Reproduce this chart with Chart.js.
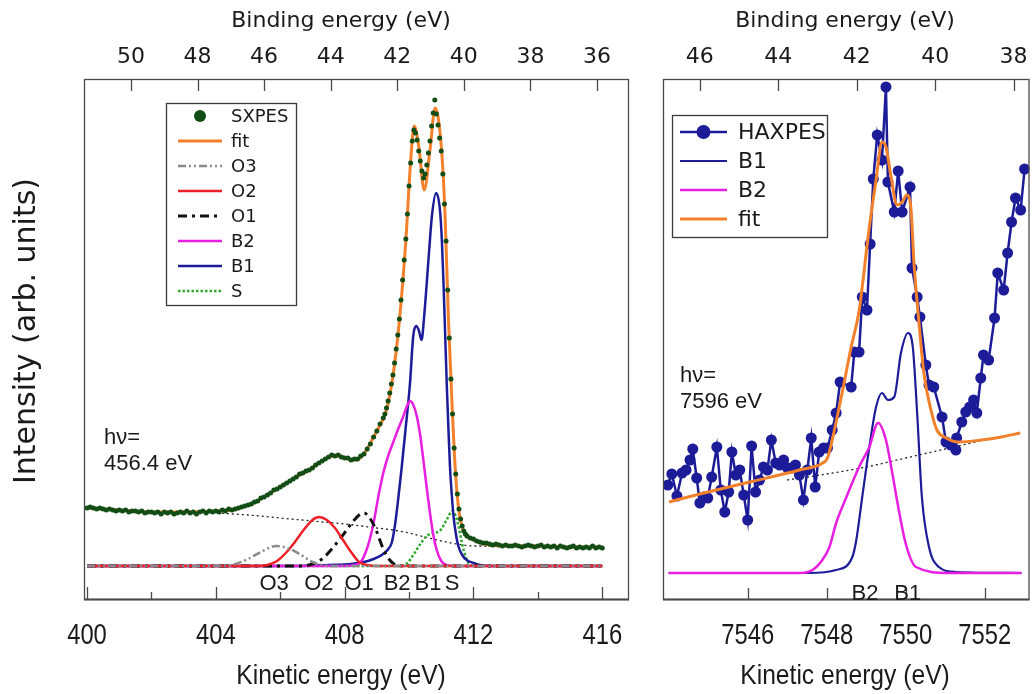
<!DOCTYPE html>
<html>
<head>
<meta charset="utf-8">
<script src="https://cdn.jsdelivr.net/npm/chart.js@4.4.0/dist/chart.umd.min.js"></script>
<style>
  html, body { margin: 0; padding: 0; background: #fff; }
  #wrap { position: relative; width: 1035px; height: 694px; }
  #sx { position: absolute; left: 0; top: 0; }
  #hx { position: absolute; left: 640px; top: 0; }
</style>
</head>
<body>
<div id="wrap">
  <canvas id="sx" width="640" height="694"></canvas>
  <canvas id="hx" width="395" height="694"></canvas>
</div>
<script>
// --- SXPES panel (hv = 456.4 eV), kinetic energy in eV, intensity in arb. units ---
// measured points, three runs of the energy grid (start, step)
const sxpesStart = [400.0, 409.25, 411.9];
const sxpesStep = [0.1, 0.05, 0.1];
const sxpesRuns = [
  [58, 59, 58, 57, 58, 57, 56, 57, 56, 55,
   56, 55, 56, 54, 55, 55, 54, 55, 53, 54,
   54, 53, 54, 52, 54, 53, 54, 52, 53, 54,
   53, 55, 53, 54, 52, 54, 55, 53, 55, 54,
   55, 54, 56, 55, 57, 56, 57, 58, 59, 60,
   61, 62, 64, 65, 68, 69, 71, 73, 76, 77,
   79, 81, 83, 85, 87, 89, 92, 93, 95, 96,
   98, 101, 103, 105, 107, 109, 111, 110, 111, 109,
   108, 108, 106, 107, 107, 110, 112, 117, 122, 129,
   135, 142, 148],
  [152, 158, 165, 173, 182, 191, 203, 217, 231, 247, 266, 286, 306, 327, 352,
   380, 403, 425, 436, 433, 426, 415, 405, 395, 388, 392, 401, 413, 425, 440,
   453, 466, 452, 441, 428,
   415, 392, 362, 325, 276, 228, 187, 152, 118, 92, 72, 57, 47, 40, 35, 32, 30],
  [28, 27, 25, 24, 23, 23, 22, 21, 22, 21,
   20, 21, 20, 20, 21, 20, 19, 20, 21, 20,
   19, 20, 21, 19, 20, 19, 20, 18, 20, 19,
   18, 19, 20, 18, 19, 18, 19, 18, 20, 18,
   19, 18]
];

const sxFitKE = [400.0, 401.0, 402.0, 403.0, 404.0, 404.5, 404.85, 405.2, 405.5, 405.85,
  406.2, 406.55, 406.9, 407.2, 407.45, 407.65, 407.85, 408.1, 408.35, 408.6,
  408.85, 409.05, 409.3, 409.5, 409.7, 409.9, 410.05, 410.16, 410.3, 410.47,
  410.65, 410.81, 411.0, 411.12, 411.22, 411.33, 411.43, 411.53, 411.68, 412.0,
  412.5, 413.0, 414.0, 415.0, 416.0];
const sxFitI = [58, 56, 54, 54, 55, 56, 59, 63, 69, 76,
  83, 90, 96, 103, 108, 110, 110, 107, 106, 112,
  126, 138, 156, 190, 245, 325, 405, 440, 420, 376,
  416, 458, 420, 350, 250, 166, 100, 60, 36, 26,
  21, 20, 20, 19, 19];

const sxO3KE = [400, 404.0, 404.5, 405.0, 405.4, 405.87, 406.3, 406.6, 407.0, 407.3, 407.8, 416];
const sxO3I = [0, 0, 1, 7, 14, 20, 17, 12, 4, 1, 0, 0];

const sxO2KE = [400, 405.3, 405.6, 405.9, 406.2, 406.5, 406.75, 407.0, 407.2, 407.45, 407.7, 407.95, 408.2, 408.45, 408.7, 409.0, 416];
const sxO2I = [0, 0, 1, 5, 14, 26, 37, 46, 49, 46, 38, 26, 14, 4, 1, 0, 0];

const sxO1KE = [400, 406.6, 407.0, 407.3, 407.6, 407.9, 408.2, 408.45, 408.6, 408.8, 409.0, 409.2, 409.4, 409.6, 409.9, 416];
const sxO1I = [0, 0, 2, 7, 17, 29, 42, 51, 53, 47, 34, 17, 6, 1, 0, 0];

const sxB2KE = [400, 408.0, 408.3, 408.5, 408.7, 408.88, 409.05, 409.2, 409.35, 409.5, 409.65, 409.8, 409.95,
  410.03, 410.12, 410.24, 410.35, 410.43, 410.55, 410.65, 410.76, 410.86, 411.0, 411.15, 411.4, 416];
const sxB2I = [0, 0, 1, 4, 18, 40, 70, 93, 110, 123, 136, 148, 161,
  165, 162, 150, 130, 110, 78, 53, 30, 16, 5, 1, 0, 0];

const sxB1KE = [400, 406.5, 407.5, 408.2, 408.6, 408.9, 409.1, 409.3, 409.46, 409.56,
  409.66, 409.77, 409.88, 410.03, 410.13, 410.22, 410.3, 410.39, 410.47, 410.55,
  410.63, 410.71, 410.84, 410.96, 411.02, 411.07, 411.12, 411.17, 411.22, 411.27,
  411.33, 411.38, 411.45, 411.53, 411.65, 411.79, 412.0, 412.2, 412.6, 416];
const sxB1I = [0, 0, 1, 2, 4, 7, 10, 15, 23, 40,
  66, 98, 133, 183, 230, 240, 236, 226, 250, 283,
  318, 350, 373, 356, 325, 283, 233, 183, 140, 100,
  70, 50, 33, 20, 11, 6, 3, 1, 0, 0];

const sxSKE = [400, 409.8, 409.95, 410.15, 410.35, 410.55, 410.75, 410.95, 411.15, 411.35, 411.45, 411.55, 411.65, 411.75, 411.85, 412.0, 416];
const sxSI = [0, 0, 3, 12, 22, 30, 33, 35, 45, 55, 50, 38, 22, 10, 3, 0, 0];

const sxBgKE = [400, 401, 402, 403, 404, 405, 406, 407, 408, 409, 409.5, 410, 410.5, 411, 411.5, 412, 413, 414, 415, 416];
const sxBgI = [58, 56, 54, 54, 53, 51, 48, 45, 42, 38, 36, 33, 29, 25, 22, 20, 20, 20, 19, 19];

const sxKETicks = [400, 402, 404, 406, 408, 410, 412, 414, 416];
const sxKELabels = [400, 404, 408, 412, 416];
const sxBETicks = [50, 48, 46, 44, 42, 40, 38, 36];
const sxPeakNames = ['O3', 'O2', 'O1', 'B2', 'B1', 'S'];
const sxPeakKE = [405.81, 407.2, 408.45, 409.63, 410.59, 411.34];

// --- HAXPES panel (hv = 7596 eV) ---
const hxKE = [7543.98, 7544.08, 7544.21, 7544.34, 7544.44, 7544.54, 7544.61, 7544.71, 7544.79, 7544.89,
  7544.99, 7545.09, 7545.22, 7545.32, 7545.42, 7545.52, 7545.60, 7545.70, 7545.80, 7545.90,
  7546.00, 7546.10, 7546.20, 7546.30, 7546.40, 7546.50, 7546.60, 7546.71, 7546.81, 7546.91,
  7547.01, 7547.11, 7547.21, 7547.31, 7547.41, 7547.51, 7547.61, 7547.71, 7547.81, 7547.92,
  7548.02, 7548.14, 7548.24, 7548.34, 7548.62, 7548.70, 7548.82, 7548.90, 7549.02, 7549.10,
  7549.18, 7549.28, 7549.40, 7549.50, 7549.55, 7549.71, 7549.81, 7549.91, 7550.11, 7550.16,
  7550.29, 7550.36, 7550.51, 7550.59, 7550.71, 7550.92, 7551.02, 7551.14, 7551.27, 7551.29,
  7551.42, 7551.52, 7551.62, 7551.72, 7551.80, 7551.90, 7551.97, 7552.10, 7552.25, 7552.33,
  7552.48, 7552.58, 7552.68, 7552.78, 7552.91, 7553.01];
const hxI = [88, 99, 77, 100, 103, 113, 124, 95, 70, 76,
  75, 96, 126, 83, 61, 81, 121, 98, 103, 78,
  53, 127, 81, 93, 106, 103, 133, 110, 108, 113,
  105, 105, 108, 98, 73, 103, 135, 86, 121, 125,
  125, 143, 160, 191, 186, 221, 221, 276, 263, 329,
  394, 438, 413, 486, 391, 361, 402, 361, 386, 305,
  276, 256, 208, 188, 186, 156, 131, 128, 123, 135,
  151, 161, 166, 173, 160, 195, 218, 213, 255, 300,
  283, 320, 351, 375, 363, 404];

const hxFitKE = [7544.01, 7544.79, 7546.05, 7547.31, 7547.9, 7548.02, 7548.14, 7548.37, 7548.62, 7548.82,
  7549.07, 7549.25, 7549.4, 7549.5, 7549.63, 7549.78, 7549.91, 7550.03, 7550.13, 7550.21,
  7550.33, 7550.46, 7550.64, 7550.79, 7551.02, 7551.34, 7551.92, 7552.42, 7552.9];
const hxFitI = [71, 79, 91, 103, 110, 115, 133, 176, 226, 262,
  343, 393, 431, 426, 396, 368, 371, 378, 366, 310,
  253, 200, 163, 143, 135, 131, 133, 136, 140];

const hxB1KE = [7544.0, 7547.56, 7548.24, 7548.65, 7548.75, 7548.90, 7549.08, 7549.25, 7549.40, 7549.55,
  7549.71, 7549.88, 7550.06, 7550.18, 7550.29, 7550.41, 7550.59, 7550.84, 7551.27, 7552.93];
const hxB1I = [0, 0, 3, 16, 33, 76, 126, 166, 180, 173, 176, 220, 240, 226, 160, 76, 26, 6, 1, 0];

const hxB2KE = [7544.0, 7547.3, 7547.64, 7547.89, 7548.07, 7548.24, 7548.5, 7548.82, 7549.08, 7549.3,
  7549.5, 7549.66, 7549.83, 7550.01, 7550.26, 7551.09, 7552.93];
const hxB2I = [0, 0, 3, 13, 26, 50, 76, 106, 126, 150, 133, 100, 62, 28, 6, 0, 0];

const hxBgKE = [7547.0, 7548.0, 7549.0, 7550.0, 7551.0, 7552.0, 7552.93];
const hxBgI = [93, 99, 106, 115, 124, 133, 140];

const hxKETicks = [7546, 7548, 7550, 7552];
const hxBETicks = [46, 44, 42, 40, 38];
const hxPeakNames = ['B2', 'B1'];
const hxPeakKE = [7548.97, 7550.05];

// colours
const C_DATA = '#114d14';
const C_FIT = '#f3802a';
const C_B1 = '#1c1c98';
const C_B2 = '#e81ee0';
const C_O2 = '#ee2026';
const C_O3 = '#8a8a8a';
const C_S = '#2faa2f';
const INK = '#1a1a1a';

Chart.defaults.animation = false;
Chart.defaults.font.family = '"DejaVu Sans", sans-serif';
Chart.defaults.color = INK;

const DEJAVU = '"DejaVu Sans", sans-serif';
const HELV = '"Liberation Sans", Arial, sans-serif';

function pts(xs, ys) {
  return xs.map((x, i) => ({ x: x, y: ys[i] }));
}

function runPts(starts, steps, runs) {
  const out = [];
  runs.forEach((run, r) => run.forEach((v, k) => {
    out.push({ x: +(starts[r] + k * steps[r]).toFixed(3), y: v });
  }));
  return out;
}

function curve(label, data, color, width, dash) {
  return {
    label: label, data: data, showLine: true,
    borderColor: color, backgroundColor: color,
    borderWidth: width, borderDash: dash || [],
    pointRadius: 0, cubicInterpolationMode: 'monotone'
  };
}

// tick marks drawn inside the frame, plus the frame itself
const innerTicks = {
  id: 'innerTicks',
  afterDatasetsDraw(chart, args, opts) {
    const ctx = chart.ctx, a = chart.chartArea;
    ctx.save();
    ctx.strokeStyle = '#4a4a4a';
    ctx.lineWidth = 1.3;
    (opts.marks || []).forEach(m => {
      const sc = chart.scales[m.id];
      sc.ticks.forEach(t => {
        const px = Math.round(sc.getPixelForValue(t.value)) + 0.5;
        const len = (m.labeled && !m.labeled.includes(t.value)) ? m.minor : m.major;
        ctx.beginPath();
        if (sc.options.position === 'top') {
          ctx.moveTo(px, a.top); ctx.lineTo(px, a.top + len);
        } else {
          ctx.moveTo(px, a.bottom); ctx.lineTo(px, a.bottom - len);
        }
        ctx.stroke();
      });
    });
    ctx.strokeRect(a.left + 0.5, a.top + 0.5, a.right - a.left - 1, a.bottom - a.top - 1);
    ctx.lineWidth = 2.2;
    ctx.beginPath();
    ctx.moveTo(a.left, a.bottom - 0.5); ctx.lineTo(a.right, a.bottom - 0.5);
    ctx.stroke();
    ctx.restore();
  }
};

// boxed legend placed inside the plot
const boxLegend = {
  id: 'boxLegend',
  afterDatasetsDraw(chart, args, o) {
    const ctx = chart.ctx;
    ctx.save();
    ctx.fillStyle = '#fff';
    ctx.fillRect(o.x, o.y, o.w, o.h);
    ctx.strokeStyle = '#3a3a3a';
    ctx.lineWidth = 1.3;
    ctx.strokeRect(o.x + 0.5, o.y + 0.5, o.w, o.h);
    ctx.font = o.font;
    ctx.textBaseline = 'middle';
    o.items.forEach((name, i) => {
      const ds = chart.data.datasets.find(d => d.label === name);
      const y = o.y + o.first + i * o.row;
      if (ds.showLine) {
        ctx.strokeStyle = ds.borderColor;
        ctx.lineWidth = ds.borderWidth;
        ctx.setLineDash(ds.borderDash || []);
        ctx.beginPath();
        ctx.moveTo(o.x + o.s0, y); ctx.lineTo(o.x + o.s1, y);
        ctx.stroke();
        ctx.setLineDash([]);
      }
      if (ds.pointRadius > 0) {
        ctx.fillStyle = ds.pointBackgroundColor;
        ctx.beginPath();
        ctx.arc(o.x + (o.s0 + o.s1) / 2, y, o.marker, 0, Math.PI * 2);
        ctx.fill();
      }
      ctx.fillStyle = INK;
      ctx.fillText(name, o.x + o.tx, y + 1);
    });
    ctx.restore();
  }
};

// free text: photon energy, peak names, kinetic tick labels and axis titles
const notes = {
  id: 'notes',
  afterDraw(chart, args, o) {
    const ctx = chart.ctx;
    const sc = chart.scales.x;
    ctx.save();
    ctx.fillStyle = INK;
    ctx.textBaseline = 'middle';
    ctx.textAlign = 'left';
    (o.text || []).forEach(t => {
      ctx.font = t.font;
      ctx.fillText(t.s, t.x, t.y);
    });
    ctx.textAlign = 'center';
    ctx.font = o.peakFont;
    o.peaks.forEach((name, i) => {
      ctx.fillText(name, sc.getPixelForValue(o.peakKE[i]), o.peakY);
    });
    // condensed kinetic-energy tick labels
    ctx.font = o.tickFont;
    o.tickLabels.forEach(v => {
      ctx.save();
      ctx.translate(sc.getPixelForValue(v), o.tickY);
      ctx.scale(o.squeeze, 1);
      ctx.fillText(String(v), 0, 0);
      ctx.restore();
    });
    o.titles.forEach(t => {
      ctx.save();
      ctx.translate(t.x, t.y);
      if (t.rot) ctx.rotate(t.rot);
      ctx.scale(t.sq || 1, 1);
      ctx.font = t.font;
      ctx.fillText(t.s, 0, 0);
      ctx.restore();
    });
    ctx.restore();
  }
};

function kineticAxis(min, max, ticks) {
  return {
    type: 'linear', position: 'bottom', min: min, max: max,
    afterBuildTicks: s => { s.ticks = ticks.map(v => ({ value: v })); },
    afterFit: s => { s.height = 94; },
    grid: { display: false, drawTicks: false },
    border: { display: false },
    ticks: { display: false }
  };
}

function bindingAxis(min, max, ticks) {
  return {
    type: 'linear', position: 'top', reverse: true, min: min, max: max,
    afterBuildTicks: s => { s.ticks = ticks.map(v => ({ value: v })); },
    afterFit: s => { s.height = 79; },
    grid: { display: false, drawTicks: false },
    border: { display: false },
    ticks: { autoSkip: false, maxRotation: 0, padding: 2, font: { size: 22, lineHeight: 1.8 } }
  };
}

const KE_TITLE_FONT = '28px ' + HELV;
const KE_TICK_FONT = '29px ' + HELV;

// ---------- left: SXPES ----------
const sxData = {
  datasets: [
    {
      label: 'SXPES', data: runPts(sxpesStart, sxpesStep, sxpesRuns), showLine: false,
      pointRadius: 2.5, pointBackgroundColor: C_DATA, pointBorderWidth: 0, backgroundColor: C_DATA
    },
    curve('fit', pts(sxFitKE, sxFitI), C_FIT, 3),
    curve('O3', pts(sxO3KE, sxO3I), C_O3, 2.5, [8, 3, 2, 3, 2, 3]),
    curve('O2', pts(sxO2KE, sxO2I), C_O2, 2.5),
    curve('O1', pts(sxO1KE, sxO1I), '#111', 3, [9, 5, 3, 5]),
    curve('B2', pts(sxB2KE, sxB2I), C_B2, 2.5),
    curve('B1', pts(sxB1KE, sxB1I), C_B1, 2.5),
    curve('S', pts(sxSKE, sxSI), C_S, 2.5, [2.5, 2]),
    curve('background', pts(sxBgKE, sxBgI), '#222', 1.3, [2, 3])
  ]
};

new Chart(document.getElementById('sx'), {
  type: 'scatter',
  data: sxData,
  options: {
    responsive: false,
    devicePixelRatio: 1,
    layout: { padding: { left: 84, right: 11, top: 0, bottom: 0 } },
    scales: {
      x: kineticAxis(399.907, 416.83, sxKETicks),
      x2: bindingAxis(35.04, 51.41, sxBETicks),
      y: { type: 'linear', min: -34, max: 487, display: false }
    },
    plugins: {
      legend: { display: false },
      tooltip: { enabled: false },
      innerTicks: {
        marks: [
          { id: 'x', major: 13, minor: 8, labeled: sxKELabels },
          { id: 'x2', major: 12 }
        ]
      },
      boxLegend: {
        x: 166, y: 103, w: 130, h: 202, first: 13, row: 25,
        s0: 12, s1: 56, tx: 65, marker: 6,
        font: '18px ' + DEJAVU,
        items: ['SXPES', 'fit', 'O3', 'O2', 'O1', 'B2', 'B1', 'S']
      },
      notes: {
        text: [
          { s: 'h\u03bd=', x: 104, y: 438, font: '22px ' + HELV },
          { s: '456.4 eV', x: 104, y: 464, font: '22px ' + HELV }
        ],
        peaks: sxPeakNames, peakKE: sxPeakKE, peakY: 584, peakFont: '22px ' + HELV,
        tickLabels: sxKELabels, tickY: 636, tickFont: KE_TICK_FONT, squeeze: 0.82,
        titles: [
          { s: 'Binding energy (eV)', x: 341, y: 21, font: '22px ' + DEJAVU },
          { s: 'Kinetic energy (eV)', x: 341, y: 676, font: KE_TITLE_FONT, sq: 0.88 },
          { s: 'Intensity (arb. units)', x: 27, y: 331, rot: -Math.PI / 2, font: '30px ' + DEJAVU }
        ]
      }
    }
  },
  plugins: [innerTicks, boxLegend, notes]
});

// ---------- right: HAXPES ----------
const hxData = {
  datasets: [
    curve('fit', pts(hxFitKE, hxFitI), C_FIT, 3),
    {
      label: 'HAXPES', data: pts(hxKE, hxI), showLine: true, tension: 0,
      borderColor: C_B1, borderWidth: 2.5, backgroundColor: C_B1,
      pointRadius: 5.5, pointBackgroundColor: C_B1, pointBorderWidth: 0
    },
    curve('B2', pts(hxB2KE, hxB2I), C_B2, 2.5),
    curve('B1', pts(hxB1KE, hxB1I), C_B1, 2.2),
    curve('background', pts(hxBgKE, hxBgI), '#222', 1.3, [2, 3])
  ]
};

new Chart(document.getElementById('hx'), {
  type: 'scatter',
  data: hxData,
  options: {
    responsive: false,
    devicePixelRatio: 1,
    layout: { padding: { left: 23, right: 4, top: 0, bottom: 0 } },
    scales: {
      x: kineticAxis(7543.857, 7553.134, hxKETicks),
      x2: bindingAxis(37.594, 46.94, hxBETicks),
      y: { type: 'linear', min: -27, max: 494, display: false }
    },
    plugins: {
      legend: { display: false },
      tooltip: { enabled: false },
      innerTicks: {
        marks: [
          { id: 'x', major: 12 },
          { id: 'x2', major: 12 }
        ]
      },
      boxLegend: {
        x: 32, y: 115, w: 155, h: 122, first: 17, row: 29,
        s0: 8, s1: 55, tx: 66, marker: 7,
        font: '22px ' + DEJAVU,
        items: ['HAXPES', 'B1', 'B2', 'fit']
      },
      notes: {
        text: [
          { s: 'h\u03bd=', x: 40, y: 376, font: '22px ' + HELV },
          { s: '7596 eV', x: 40, y: 402, font: '22px ' + HELV }
        ],
        peaks: hxPeakNames, peakKE: hxPeakKE, peakY: 594, peakFont: '22px ' + HELV,
        tickLabels: hxKETicks, tickY: 636, tickFont: KE_TICK_FONT, squeeze: 0.82,
        titles: [
          { s: 'Binding energy (eV)', x: 205, y: 21, font: '22px ' + DEJAVU },
          { s: 'Kinetic energy (eV)', x: 205, y: 676, font: KE_TITLE_FONT, sq: 0.88 }
        ]
      }
    }
  },
  plugins: [innerTicks, boxLegend, notes]
});
</script>
</body>
</html>
